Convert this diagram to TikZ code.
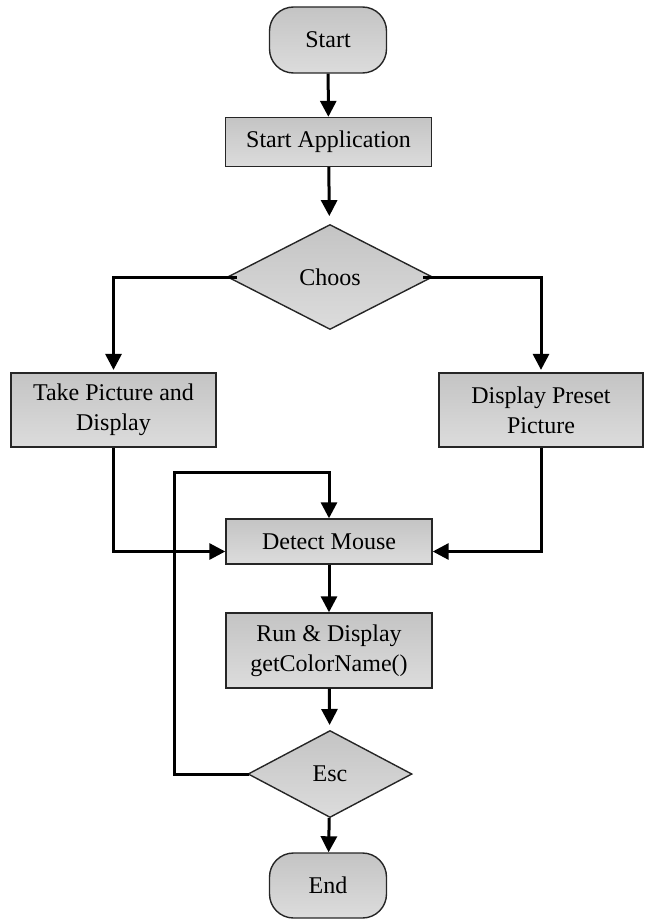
\documentclass[tikz,border=0pt]{standalone}
\usepackage{fontspec}
\setmainfont{Liberation Serif}
\usetikzlibrary{shapes.geometric,arrows.meta}
\definecolor{topc}{HTML}{C4C4C4}
\definecolor{botc}{HTML}{DCDCDC}
\begin{document}
\begin{tikzpicture}[x=0.5pt,y=-0.5pt,
  every node/.style={font=\fontsize{12}{15}\selectfont, align=center, inner sep=0pt},
  shade box/.style={draw=black!85, line width=0.7pt, top color=topc, bottom color=botc},
  procbox/.style={shade box, rectangle, minimum width=103pt},
  termbox/.style={shade box, rectangle, rounded corners=12pt, minimum width=58.5pt, minimum height=33pt},
  decbox/.style={shade box, diamond, aspect=2},
  flow/.style={line width=1.5pt, -{Triangle[width=8pt,length=8pt]}},
  plainline/.style={line width=1.5pt}]
\useasboundingbox (0,0) rectangle (646,920);
\node[termbox] (start) at (328,40) {Start};
\node[procbox, minimum height=24.5pt] (app) at (328.5,142) {Start Application};
\node[decbox, minimum width=102.5pt, minimum height=52.5pt] (choos) at (330,277) {Choos};
\node[procbox, minimum width=102.5pt, minimum height=37pt] (take) at (113.5,410) {Take Picture and\\Display};
\node[procbox, minimum width=102pt, minimum height=37pt] (preset) at (541,410) {Display Preset\\Picture};
\node[procbox, minimum height=22.5pt] (detect) at (329,541.5) {Detect Mouse};
\node[procbox, minimum height=37.5pt] (run) at (329,650.5) {Run \& Display\\getColorName()};
\node[decbox, minimum width=82pt, minimum height=43.5pt] (esc) at (330,774) {Esc};
\node[termbox, minimum height=32.5pt] (end) at (328,885.5) {End};
\coordinate (loopcorner) at (174,472);
\draw[flow] (start) -- (app);
\draw[flow, shorten >=4pt] (app) -- (choos);
\draw[flow, shorten >=1.2pt] ([xshift=5pt]choos.west) -| (take.north);
\draw[flow, shorten >=1.2pt] ([xshift=-5pt]choos.east) -| (preset.north);
\draw[flow] (take.south) |- ([yshift=-5pt]detect.west);
\draw[flow] (preset.south) |- ([yshift=-5pt]detect.east);
\draw[flow] (detect) -- (run);
\draw[flow, shorten >=2.5pt] (run) -- (esc);
\draw[flow] ([xshift=1pt]esc.west) -| (loopcorner) -| (detect.north);
\draw[flow] (esc) -- (end);
\end{tikzpicture}
\end{document}
